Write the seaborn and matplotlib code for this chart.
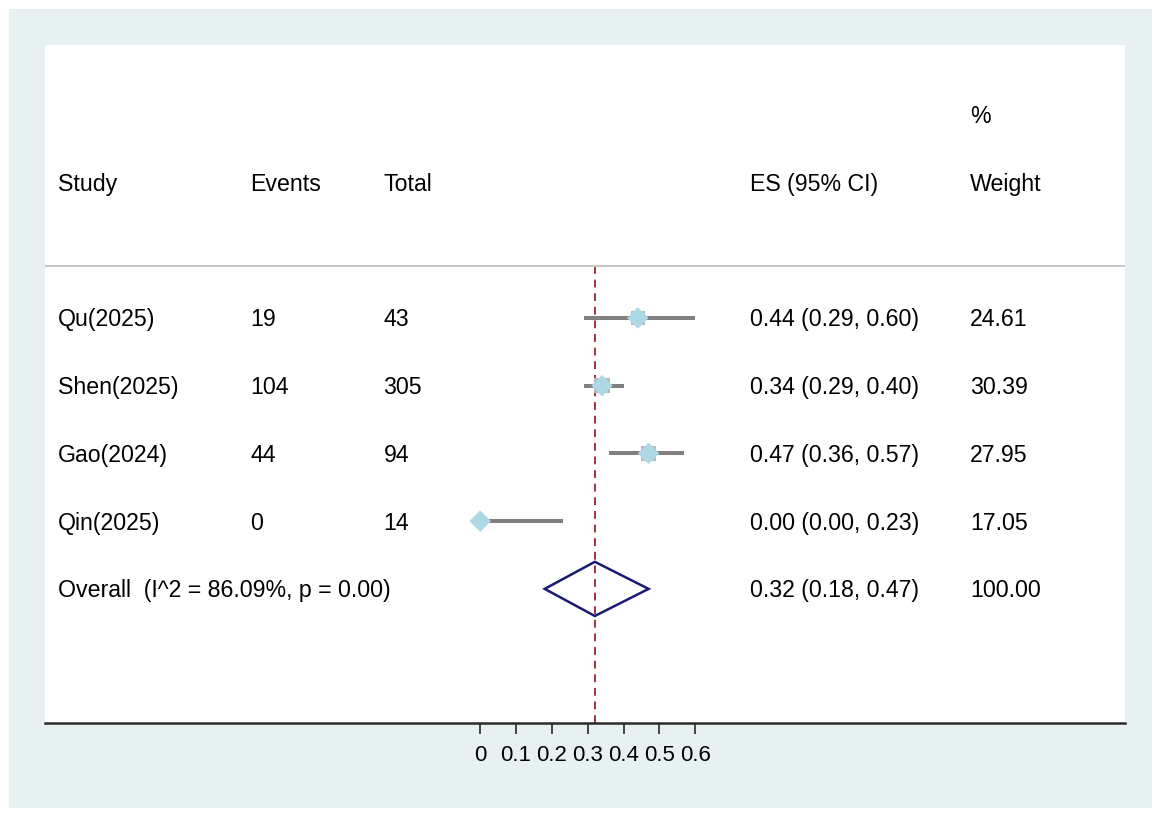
import numpy as np
import pandas as pd
import matplotlib
matplotlib.use("Agg")
import matplotlib.pyplot as plt
import seaborn as sns
from matplotlib.patches import Rectangle, Polygon

studies = ["Qu(2025)", "Shen(2025)", "Gao(2024)", "Qin(2025)"]
events = [19, 104, 44, 0]
totals = [43, 305, 94, 14]
es = [0.44, 0.34, 0.47, 0.00]
lo = [0.29, 0.29, 0.36, 0.00]
hi = [0.60, 0.40, 0.57, 0.23]
weights = [24.61, 30.39, 27.95, 17.05]
overall_label = "Overall  (I^2 = 86.09%, p = 0.00)"
overall = [0.32, 0.18, 0.47]
ticks = [0, 0.1, 0.2, 0.3, 0.4, 0.5, 0.6]

df = pd.DataFrame({"study": studies, "es": es, "lo": lo, "hi": hi,
                   "weight": weights, "row": range(len(studies))})

sns.set_style("white")
plt.rcParams["font.family"] = ["Liberation Sans", "DejaVu Sans"]
plt.rcParams["text.color"] = "black"
plt.rcParams["xtick.color"] = "black"

fig = plt.figure(figsize=(11.61, 8.18), dpi=100)
fig.patch.set_facecolor("white")
bg = "#e8f1f2"
fig.add_artist(Rectangle((9 / 1161, 10 / 818), 1143 / 1161, 799 / 818,
                         transform=fig.transFigure, facecolor=bg,
                         edgecolor="none", zorder=-5))
ax = fig.add_axes([45 / 1161, 95 / 818, 1080 / 1161, 678 / 818])
ax.set_facecolor("white")
ax.set_zorder(1)

fs = 16.7
dy = 0.03
col_x = {"study": -1.18, "events": -0.642, "total": -0.27, "es": 0.752, "w": 1.367}


def put(x, y, s):
    ax.text(x, y + dy, s, fontsize=fs, va="center", color="black",
            family=["Liberation Sans", "DejaVu Sans"])


# header
put(col_x["study"], -2, "Study")
put(col_x["events"], -2, "Events")
put(col_x["total"], -2, "Total")
put(col_x["es"], -2, "ES (95% CI)")
put(col_x["w"], -3, "%")
put(col_x["w"], -2, "Weight")
ax.axhline(-0.77, color="#c8c8c8", lw=1.5)

# null / overall line
ax.vlines(overall[0], -0.77, 6.0, color="#a3323c", lw=1.4,
          linestyles=(0, (4, 3)), zorder=1)

# study CIs and markers
ax.hlines(df["row"], df["lo"], df["hi"], color="#808080", lw=2.9, zorder=2)
sns.scatterplot(data=df, x="es", y="row", size="weight", sizes=(60, 125),
                marker="s", color="#b8b8b8", edgecolor="none", legend=False,
                ax=ax, zorder=3)
sns.scatterplot(data=df, x="es", y="row", marker="D", s=120, color="#add8e6",
                edgecolor="none", legend=False, ax=ax, zorder=4)

for i in range(len(studies)):
    put(col_x["study"], i, studies[i])
    put(col_x["events"], i, str(events[i]))
    put(col_x["total"], i, str(totals[i]))
    put(col_x["es"], i, f"{es[i]:.2f} ({lo[i]:.2f}, {hi[i]:.2f})")
    put(col_x["w"], i, f"{weights[i]:.2f}")

# overall diamond
r = len(studies)
h = 0.4
ax.add_patch(Polygon([[overall[1], r], [overall[0], r - h], [overall[2], r],
                      [overall[0], r + h]], closed=True, facecolor="none",
                     edgecolor="#1a1a75", lw=1.8, zorder=5))
put(col_x["study"], r, overall_label)
put(col_x["es"], r, f"{overall[0]:.2f} ({overall[1]:.2f}, {overall[2]:.2f})")
put(col_x["w"], r, "100.00")

ax.set_xlim(-1.215, 1.80)
ax.set_ylim(5.98, -4.03)
ax.set_xticks(ticks)
ax.set_xticklabels([f"{t:g}" for t in ticks], fontsize=16,
                   family=["Liberation Sans", "DejaVu Sans"], color="black")
ax.set_yticks([])
ax.set_xlabel("")
ax.set_ylabel("")
for s in ["left", "right", "top"]:
    ax.spines[s].set_visible(False)
ax.spines["bottom"].set_color("#2a2a2a")
ax.spines["bottom"].set_linewidth(1.8)
ax.tick_params(axis="x", bottom=True, length=8, width=1.2, color="#2a2a2a",
               pad=8)

fig.savefig("out.png", dpi=100, facecolor="white")
